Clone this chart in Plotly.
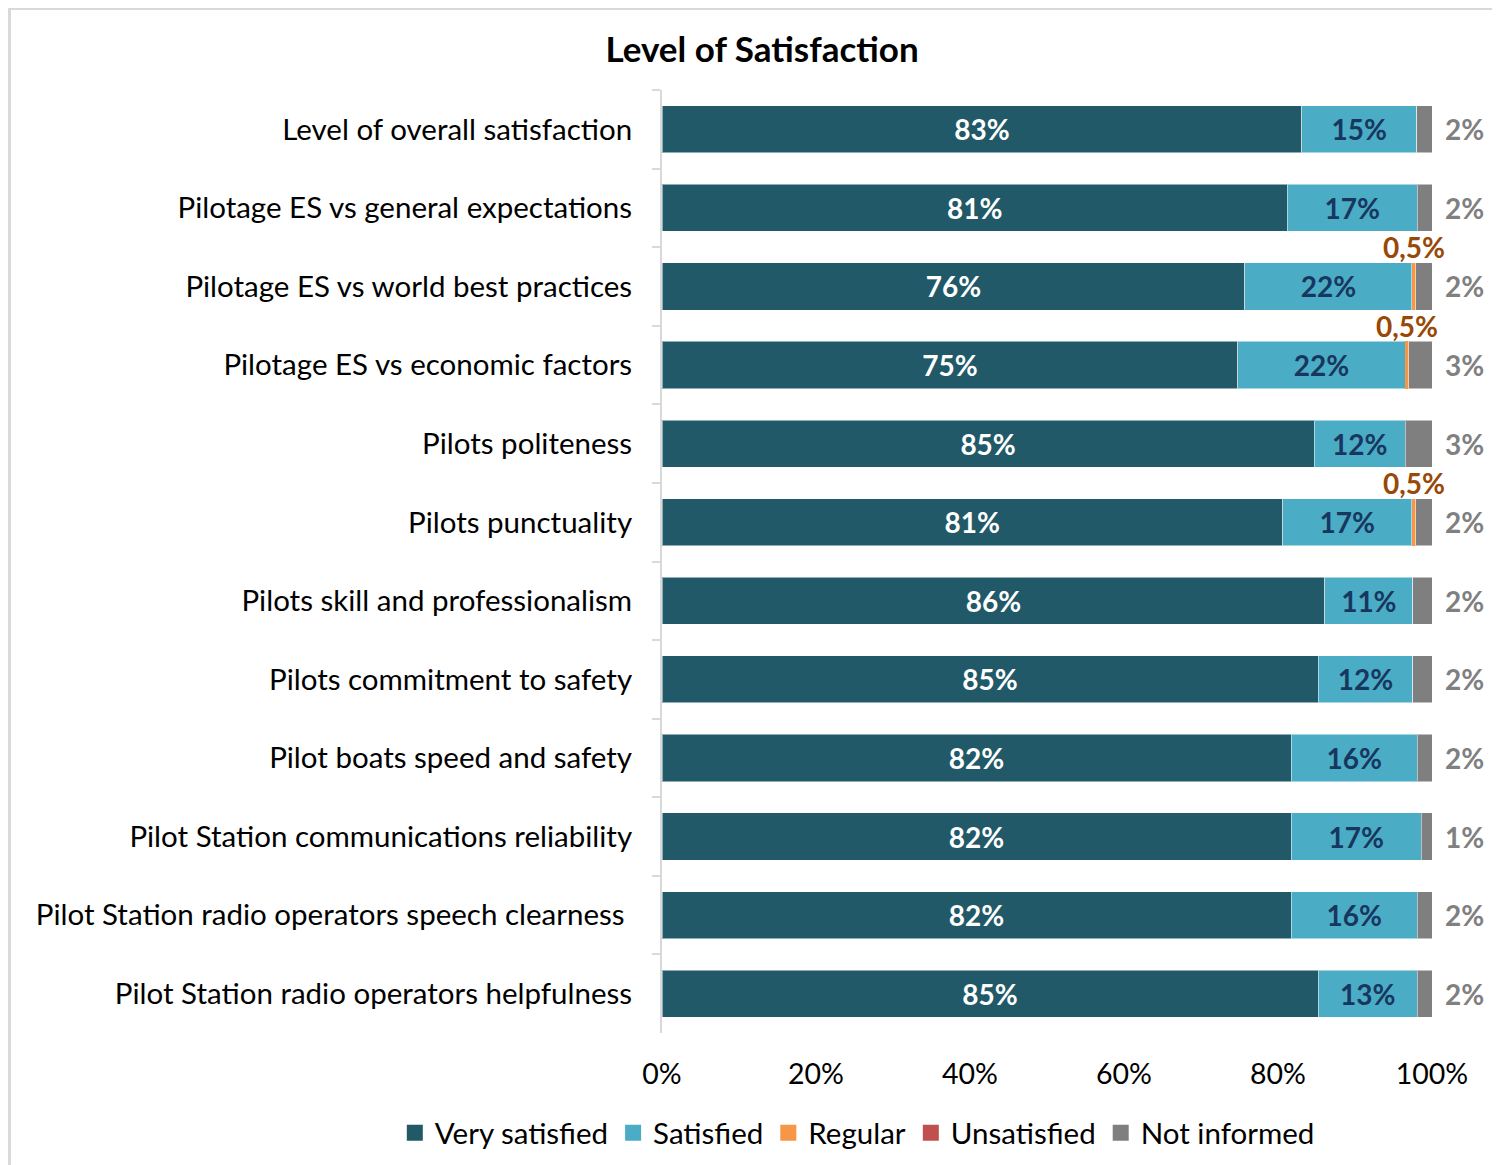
import plotly.graph_objects as go

categories = [
    "Level of overall satisfaction",
    "Pilotage ES vs general expectations",
    "Pilotage ES vs world best practices",
    "Pilotage ES vs economic factors",
    "Pilots politeness",
    "Pilots punctuality",
    "Pilots skill and professionalism",
    "Pilots commitment to safety",
    "Pilot boats speed and safety",
    "Pilot Station communications reliability",
    "Pilot Station radio operators speech clearness\u00a0",
    "Pilot Station radio operators helpfulness",
]
very_satisfied = [83.1, 81.2, 75.7, 74.8, 84.7, 80.6, 86.1, 85.2, 81.7, 81.7, 81.7, 85.2]
satisfied = [14.9, 16.9, 21.7, 21.7, 11.8, 16.8, 11.4, 12.3, 16.4, 16.9, 16.4, 12.9]
regular = [0, 0, 0.5, 0.5, 0, 0.5, 0, 0, 0, 0, 0, 0]
unsatisfied = [0] * 12
not_informed = [2.0, 1.9, 2.1, 3.0, 3.5, 2.1, 2.5, 2.5, 1.9, 1.4, 1.9, 1.9]

very_labels = ["83%", "81%", "76%", "75%", "85%", "81%", "86%", "85%", "82%", "82%", "82%", "85%"]
sat_labels = ["15%", "17%", "22%", "22%", "12%", "17%", "11%", "12%", "16%", "17%", "16%", "13%"]
reg_labels = ["", "", "0,5%", "0,5%", "", "0,5%", "", "", "", "", "", ""]
ni_labels = ["2%", "2%", "2%", "3%", "3%", "2%", "2%", "2%", "2%", "1%", "2%", "2%"]
series_names = ["Very satisfied", "Satisfied", "Regular", "Unsatisfied", "Not informed"]

FONT = "Lato"
C_VS, C_S, C_R, C_U, C_NI = "#215968", "#4BACC6", "#F79646", "#C0504D", "#7F7F7F"
colors = [C_VS, C_S, C_R, C_U, C_NI]
OUTLINE = dict(color="rgba(255,255,255,0.5)", width=1)
LBL = 28

fig = go.Figure()
fig.add_trace(go.Bar(
    y=categories, x=very_satisfied, name=series_names[0], orientation="h", showlegend=False,
    marker=dict(color=C_VS, line=OUTLINE), text=very_labels, textposition="inside",
    insidetextanchor="middle", textfont=dict(family=FONT, size=LBL, color="white", weight="bold"),
    textangle=0,
))
fig.add_trace(go.Bar(
    y=categories, x=satisfied, name=series_names[1], orientation="h", showlegend=False,
    marker=dict(color=C_S, line=OUTLINE), text=sat_labels, textposition="inside",
    insidetextanchor="middle", textfont=dict(family=FONT, size=LBL, color="#17375E", weight="bold"),
    textangle=0,
))
fig.add_trace(go.Bar(
    y=categories, x=regular, name=series_names[2], orientation="h", showlegend=False,
    marker=dict(color=C_R, line=dict(width=0)), textposition="none",
))
fig.add_trace(go.Bar(
    y=categories, x=unsatisfied, name=series_names[3], orientation="h", showlegend=False,
    marker=dict(color=C_U, line=dict(width=0)), textposition="none",
))
fig.add_trace(go.Bar(
    y=categories, x=not_informed, name=series_names[4], orientation="h", showlegend=False,
    marker=dict(color=C_NI, line=OUTLINE), textposition="none",
))

for i, cat in enumerate(categories):
    total = round(very_satisfied[i] + satisfied[i] + regular[i] + unsatisfied[i] + not_informed[i], 6)
    total = min(total, 100)
    fig.add_annotation(x=total, y=cat, text=ni_labels[i], showarrow=False,
                       xanchor="left", xshift=11,
                       font=dict(family=FONT, size=LBL, color="#808080", weight="bold"))
    if reg_labels[i]:
        xr = very_satisfied[i] + satisfied[i] + regular[i] / 2
        fig.add_annotation(x=xr, y=cat, text=reg_labels[i], showarrow=False,
                           xanchor="center", yanchor="middle", yshift=39,
                           font=dict(family=FONT, size=LBL, color="#984807", weight="bold"))

# legend entries with square symbols
for name, col in zip(series_names, colors):
    fig.add_trace(go.Scatter(
        x=[None], y=[None], mode="markers", name=name,
        marker=dict(symbol="square", size=18, color=col), showlegend=True,
    ))

# outer light border
fig.add_shape(type="rect", xref="paper", yref="paper",
              x0=-0.8474, x1=1.12, y0=-0.2, y1=1.0864,
              line=dict(color="#D9D9D9", width=3), fillcolor="rgba(0,0,0,0)", layer="below")

fig.update_layout(
    width=1500, height=1165,
    margin=dict(l=654, r=76, t=82, b=140, autoexpand=False),
    paper_bgcolor="white", plot_bgcolor="white",
    barmode="stack", bargap=0.40,
    title=dict(text="<b>Level of Satisfaction</b>", x=0.5027, xref="container", xanchor="center",
               y=0.9645, yanchor="middle", font=dict(family=FONT, size=35, color="black")),
    font=dict(family=FONT, color="black"),
    showlegend=True,
    legend=dict(orientation="h", x=-0.347, xanchor="left", y=-0.106, yanchor="middle",
                font=dict(family=FONT, size=29.5, color="black"), traceorder="normal",
                itemwidth=30, tracegroupgap=0, itemsizing="trace"),
)
fig.update_xaxes(range=[0, 100], tickvals=[0, 20, 40, 60, 80, 100],
                 ticktext=["0%", "20%", "40%", "60%", "80%", "100%"],
                 showgrid=False, zeroline=False, showline=False,
                 tickfont=dict(family=FONT, size=28.5, color="black"), ticks="", ticklabelstandoff=21)
fig.update_yaxes(autorange="reversed", showgrid=False, showline=True, linecolor="#D9D9D9", linewidth=2,
                 ticks="outside", tickson="boundaries", ticklen=8, tickcolor="#D9D9D9", tickwidth=2,
                 tickfont=dict(family=FONT, size=29.5, color="black"), ticklabelstandoff=22)

fig.write_html("out.html")
